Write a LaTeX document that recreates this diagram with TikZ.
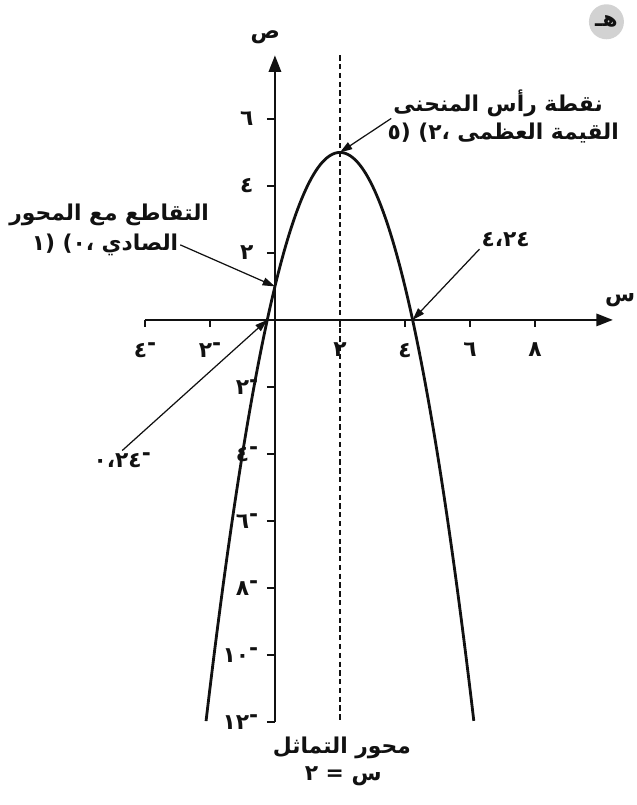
\documentclass[tikz,border=0pt]{standalone}
\usepackage{fontspec}
\setmainfont{DejaVu Sans}
\newfontfamily\arabicfont[Script=Arabic]{DejaVu Sans}
\TeXXeTstate=1
\usetikzlibrary{arrows.meta,calc}
\definecolor{ink}{HTML}{111111}
\definecolor{badge}{HTML}{D2D2D2}
% raised minus on the right of a number
\newcommand{\mns}[1]{#1\raisebox{.55ex}{-}}

\begin{document}
\begin{tikzpicture}[x=0.65cm, y=0.67cm, text=ink,
  font=\arabicfont\bfseries\fontsize{12.4}{15}\selectfont,
  axis/.style={draw=ink, line width=1.4pt, -{Triangle[length=9.5pt, width=7pt]}},
  pointer/.style={draw=ink, line width=0.7pt, -{Triangle[length=7pt, width=4.5pt]}},
  tickmark/.style={draw=ink, line width=0.9pt},
  curve/.style={draw=ink, line width=1.6pt},
  symline/.style={draw=ink, line width=1.1pt, dash pattern=on 3pt off 2pt},
  lbl/.style={inner sep=1pt}]
  \useasboundingbox (-8.46,-14.48) rectangle (11.14,9.55);

  \coordinate (xs) at (-4,0);
  \coordinate (xe) at (10.4,0);
  \coordinate (ys) at (0,-12);
  \coordinate (ye) at (0,7.9);
  \coordinate (symtop) at (2,7.9);
  \coordinate (symbot) at (2,-11.95);
  \coordinate (vertex) at (2,5);
  \coordinate (yint) at (0,1);
  \coordinate (rootr) at ({2+sqrt(5)},0);
  \coordinate (rootl) at ({2-sqrt(5)},0);

  \draw[symline] (symtop) -- (symbot);
  \draw[axis] (xs) -- (xe);
  \draw[axis] (ys) -- (ye);
  \node (xname) at (10.62,0.6) {س};
  \node (yname) at (-0.3,8.45) {ص};

  \foreach \x/\lab in {-4/\mns{٤}, -2/\mns{٢}, 2/٢, 4/٤, 6/٦, 8/٨} {
    \draw[tickmark] (\x,0) -- (\x,-0.2);
    \node[lbl] (xt\x) at (\x,-0.9) {\lab};
  }
  \foreach \y/\lab/\gap in {6/٦/-0.6, 4/٤/-0.6, 2/٢/-0.6, -2/\mns{٢}/-0.45,
      -4/\mns{٤}/-0.45, -6/\mns{٦}/-0.45, -8/\mns{٨}/-0.45,
      -10/\mns{١٠}/-0.45, -12/\mns{١٢}/-0.45} {
    \draw[tickmark] (-0.25,\y) -- (0,\y);
    \node[lbl, anchor=east] (yt\y) at (\gap,\y) {\lab};
  }

  \draw[curve] plot[domain=-2.12:6.12, samples=90, smooth] (\x,{5-(\x-2)^2});

  % callouts
  \node[lbl, anchor=east] (vtxa) at (10.15,6.48) {\beginR نقطة رأس المنحنى\endR};
  \node[lbl, anchor=east] (vtxb) at (10.65,5.58)
    {\beginR القيمة العظمى \beginL(٥ ،٢)\endL\endR};
  \draw[pointer] (vtxa.south west) -- (vertex);

  \node[lbl] (yinta) at (-5.1,3.13) {\beginR التقاطع مع المحور\endR};
  \node[lbl] (yintb) at (-5.23,2.24) {\beginR الصادي \beginL(١ ،٠)\endL\endR};
  \draw[pointer] (yintb.east) -- (yint);

  \node[lbl] (rootlbl) at (7.1,2.39) {٤،٢٤};
  \draw[pointer] (rootlbl.south west) -- (rootr);

  \node[lbl] (nrootlbl) at (-4.7,-4.18) {\mns{٠،٢٤}};
  \draw[pointer] (nrootlbl.north) -- (rootl);

  \node[lbl] (symname) at (2.06,-12.78) {\beginR محور التماثل\endR};
  \node[lbl] (symeq) at (2.1,-13.61) {\beginR س = ٢\endR};

  \node[circle, fill=badge, minimum size=0.7cm, inner sep=0pt] (part) at (10.2,8.9) {هـ};
\end{tikzpicture}
\end{document}
